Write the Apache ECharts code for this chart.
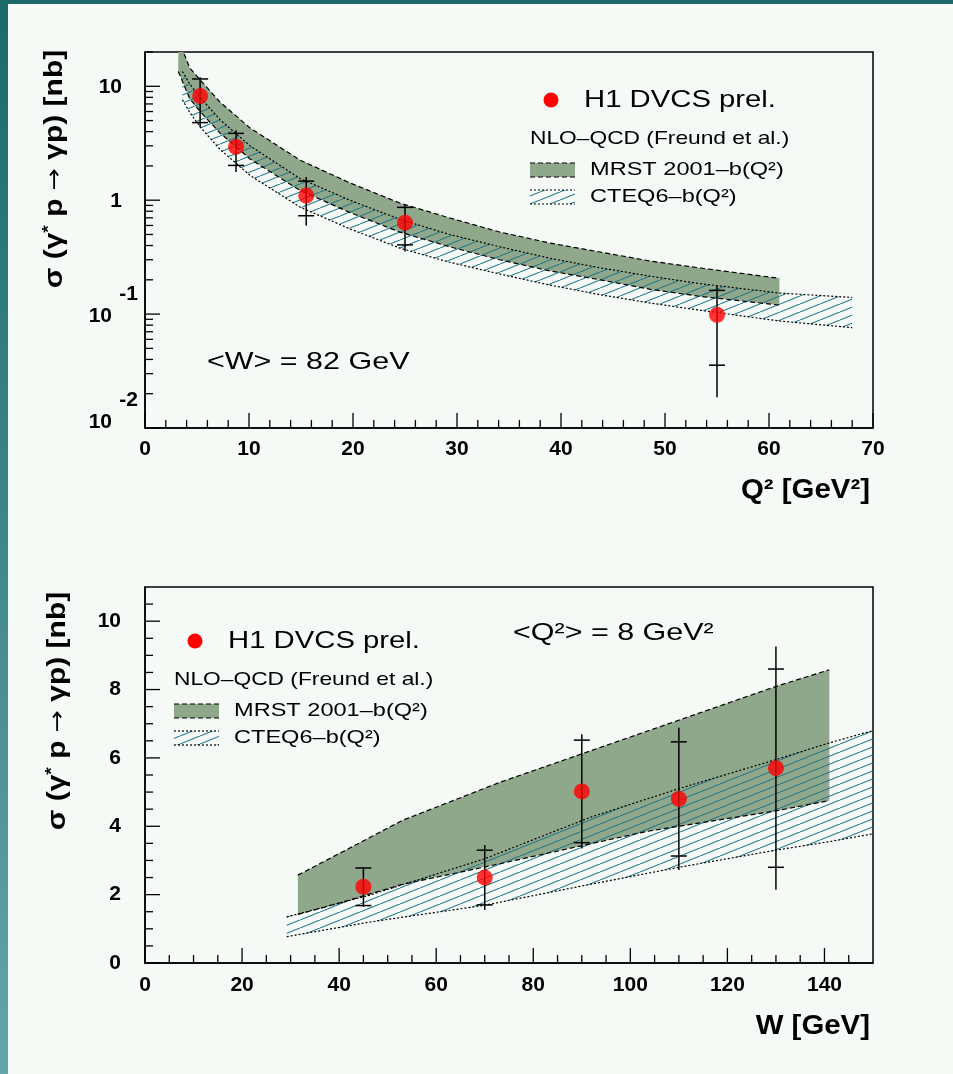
<!DOCTYPE html>
<html>
<head>
<meta charset="utf-8">
<title>DVCS cross section</title>
<script src="https://cdn.jsdelivr.net/npm/echarts@6/dist/echarts.min.js"></script>
<style>
  html, body { margin: 0; padding: 0; background: #f6faf6; }
  #frame { position: relative; width: 953px; height: 1074px; background: #f6faf6; overflow: hidden; }
  #bar-top { position: absolute; left: 0; top: 0; width: 953px; height: 4px; background: #1c696a; }
  #bar-left { position: absolute; left: 0; top: 0; width: 8px; height: 1074px; background: linear-gradient(to bottom, #1c696a, #63a6a5); }
  #chart { position: absolute; left: 0; top: 0; width: 953px; height: 1074px; }
</style>
</head>
<body>
<div id="frame"><div id="chart"></div><div id="bar-top"></div><div id="bar-left"></div></div>
<script>
// ---------- Q² dependence at <W> = 82 GeV ----------
const q2Values = [5.3, 8.75, 15.5, 25, 55];
const q2Sigma  = [8.2, 2.94, 1.1, 0.635, 0.0986];
const q2Stat   = [3.4, 0.92, 0.37, 0.23, 0.063];
const q2Total  = [3.8, 1.17, 0.5, 0.28, 0.08];

// NLO-QCD predictions (Freund et al.) vs Q²
const mrstQ2      = [3.2, 4.3, 5.3, 7.2, 10.1, 14.9, 19.7, 24.5, 29.3, 34.1, 38.9, 43.75, 48.6, 53.4, 61];
const mrstQ2Upper = [26, 14.5, 11.4, 7.28, 4.31, 2.25, 1.42, 0.944, 0.698, 0.526, 0.421, 0.351, 0.292, 0.254, 0.206];
const mrstQ2Lower = [13.5, 7.8, 6.0, 3.9, 2.3, 1.22, 0.78, 0.525, 0.39, 0.30, 0.24, 0.2, 0.165, 0.143, 0.12];

const cteqQ2      = [3.6, 4.3, 5.3, 7.2, 10.1, 14.9, 19.7, 24.5, 29.3, 34.1, 38.9, 43.75, 48.6, 53.4, 61, 68];
const cteqQ2Upper = [13.5, 10.5, 8.0, 5.1, 3.0, 1.55, 1.0, 0.68, 0.5, 0.39, 0.31, 0.255, 0.215, 0.185, 0.153, 0.14];
const cteqQ2Lower = [7.6, 5.9, 4.4, 2.8, 1.65, 0.87, 0.56, 0.38, 0.285, 0.225, 0.18, 0.148, 0.125, 0.108, 0.087, 0.076];

// ---------- W dependence at <Q²> = 8 GeV² ----------
const wValues = [45, 70, 90, 110, 130];
const wSigma  = [2.23, 2.5, 5.02, 4.8, 5.7];
const wStat   = [0.55, 0.8, 1.5, 1.67, 2.9];
const wTotal  = [0.58, 0.95, 1.67, 2.08, 3.56];

const mrstW      = [31.5, 40, 53, 73, 103.4, 130, 141];
const mrstWUpper = [2.57, 3.2, 4.17, 5.28, 6.78, 8.09, 8.58];
const mrstWLower = [1.42, 1.75, 2.3, 2.9, 3.85, 4.45, 4.75];

const cteqW      = [29.2, 46.4, 70, 91.7, 110, 130, 141, 150];
const cteqWUpper = [1.35, 1.99, 3.05, 4.26, 5.1, 5.95, 6.44, 6.8];
const cteqWLower = [0.77, 1.2, 1.69, 2.3, 2.8, 3.3, 3.55, 3.78];

// ---------- axis ticks and labels ----------
const q2MajorTicks = [0, 10, 20, 30, 40, 50, 60, 70];
const q2MinorTicks = [2, 4, 6, 8, 12, 14, 16, 18, 22, 24, 26, 28, 32, 34, 36, 38, 42, 44, 46, 48, 52, 54, 56, 58, 62, 64, 66, 68];
const logMajorTicks = [0.01, 0.1, 1, 10];
const logMinorTicks = [0.02, 0.03, 0.04, 0.05, 0.06, 0.07, 0.08, 0.09, 0.2, 0.3, 0.4, 0.5, 0.6, 0.7, 0.8, 0.9, 2, 3, 4, 5, 6, 7, 8, 9, 20];
const wMajorTicks = [0, 20, 40, 60, 80, 100, 120, 140];
const wMinorTicks = [5, 10, 15, 25, 30, 35, 45, 50, 55, 65, 70, 75, 85, 90, 95, 105, 110, 115, 125, 130, 135, 145];
const linMajorTicks = [0, 2, 4, 6, 8, 10];
const linMinorTicks = [0.5, 1, 1.5, 2.5, 3, 3.5, 4.5, 5, 5.5, 6.5, 7, 7.5, 8.5, 9, 9.5, 10.5];

const FONT = 'Liberation Sans';
const GREEN = '#8fa78b';
const TEAL = '#21778a';
const LABEL_SIZE = 21;

// diagonal hatching used for the CTEQ6 band
function hatchTile() {
  const c = document.createElement('canvas');
  c.width = 20; c.height = 8;
  const g = c.getContext('2d');
  g.strokeStyle = TEAL; g.lineWidth = 1.1;
  for (const dx of [-20, 0, 20]) {
    g.beginPath(); g.moveTo(dx, 8); g.lineTo(dx + 20, 0); g.stroke();
  }
  return c;
}
const HATCH = { image: hatchTile(), repeat: 'repeat' };

// filled area between two curves
function bandFill(xi, xs, up, lo, fill, z) {
  return {
    type: 'custom', xAxisIndex: xi, yAxisIndex: xi, clip: true, silent: true, z: z,
    data: [[xs[0], up[0]]],
    renderItem: (params, api) => {
      const top = xs.map((x, i) => api.coord([x, up[i]]));
      const bot = xs.map((x, i) => api.coord([x, lo[i]]));
      return { type: 'polygon', shape: { points: top.concat(bot.slice().reverse()) },
               style: { fill: fill, stroke: null } };
    }
  };
}
// dashed / dotted upper and lower edges of a band
function bandEdges(xi, xs, up, lo, dash, z) {
  return {
    type: 'custom', xAxisIndex: xi, yAxisIndex: xi, clip: true, silent: true, z: z,
    data: [[xs[0], up[0]]],
    renderItem: (params, api) => {
      const top = xs.map((x, i) => api.coord([x, up[i]]));
      const bot = xs.map((x, i) => api.coord([x, lo[i]]));
      const st = { stroke: '#000', lineWidth: 1.2, lineDash: dash, fill: null };
      return { type: 'group', children: [
        { type: 'polyline', shape: { points: top }, style: st },
        { type: 'polyline', shape: { points: bot }, style: st }
      ] };
    }
  };
}

// error bars: full line = total error, cross ticks = statistical error
function errorBars(xi, xs, ys, stat, tot) {
  return {
    type: 'custom', xAxisIndex: xi, yAxisIndex: xi, silent: true, z: 6,
    data: xs.map((x, i) => [x, ys[i], stat[i], tot[i]]),
    renderItem: (params, api) => {
      const x = api.value(0), y = api.value(1), s = api.value(2), t = api.value(3);
      const a = api.coord([x, y + t]), b = api.coord([x, y - t]);
      const c = api.coord([x, y + s]), d = api.coord([x, y - s]);
      const st = { stroke: '#000', lineWidth: 1.5 };
      const hw = 8;
      return { type: 'group', children: [
        { type: 'line', shape: { x1: a[0], y1: a[1], x2: b[0], y2: b[1] }, style: st },
        { type: 'line', shape: { x1: c[0] - hw, y1: c[1], x2: c[0] + hw, y2: c[1] }, style: st },
        { type: 'line', shape: { x1: d[0] - hw, y1: d[1], x2: d[0] + hw, y2: d[1] }, style: st }
      ] };
    }
  };
}

// inward pointing tick marks on the bottom and left axes
function tickSeries(xi, xMajor, xMinor, yMajor, yMinor, x0, y0) {
  const data = [];
  xMajor.forEach(v => data.push([v, y0, 0, 15]));
  xMinor.forEach(v => data.push([v, y0, 0, 8]));
  yMajor.forEach(v => data.push([x0, v, 1, 15]));
  yMinor.forEach(v => data.push([x0, v, 1, 8]));
  return {
    type: 'custom', xAxisIndex: xi, yAxisIndex: xi, silent: true, z: 8,
    data: data,
    renderItem: (params, api) => {
      const p = api.coord([api.value(0), api.value(1)]);
      const len = api.value(3);
      const st = { stroke: '#000', lineWidth: 1.3 };
      if (api.value(2) === 0) {
        return { type: 'line', shape: { x1: p[0], y1: p[1], x2: p[0], y2: p[1] - len }, style: st };
      }
      return { type: 'line', shape: { x1: p[0], y1: p[1], x2: p[0] + len, y2: p[1] }, style: st };
    }
  };
}

// decade labels of the logarithmic axis (10, 1, 10^-1, 10^-2)
const logLabels = {
  type: 'custom', xAxisIndex: 0, yAxisIndex: 0, silent: true, z: 8,
  data: logMajorTicks.map(v => [0, v]),
  renderItem: (params, api) => {
    const v = api.value(1);
    const p = api.coord([0, v]);
    const e = Math.round(Math.log10(v));
    const f = 'bold ' + LABEL_SIZE + 'px "' + FONT + '"';
    if (e >= 0) {
      return { type: 'text', x: p[0] - 23, y: p[1] + 1,
               style: { text: e === 1 ? '10' : '1', font: f, fill: '#000', align: 'right', verticalAlign: 'middle' } };
    }
    const dy = e === -2 ? -6 : 2;
    return { type: 'group', children: [
      { type: 'text', x: p[0] - 33, y: p[1] + dy,
        style: { text: '10', font: f, fill: '#000', align: 'right', verticalAlign: 'middle' } },
      { type: 'text', x: p[0] - 7, y: p[1] + dy - 22,
        style: { text: String(e), font: f, fill: '#000', align: 'right', verticalAlign: 'middle' } }
    ] };
  }
};

const tickLabel = { color: '#000', fontFamily: FONT, fontWeight: 'bold', fontSize: LABEL_SIZE };

// ---------- legend and annotation graphics ----------
function txt(x, y, text, size, opts) {
  opts = opts || {};
  return {
    type: 'text', x: x, y: y, scaleX: opts.sx || 1.2, rotation: opts.rot || 0, z: 20,
    style: {
      text: text, fill: '#000', fontFamily: FONT, fontSize: size, fontWeight: opts.bold ? 'bold' : 'normal',
      align: opts.align || 'left', verticalAlign: 'middle', rich: opts.rich
    }
  };
}
function legendBlock(x, y, dotX) {
  const els = [];
  els.push({ type: 'circle', shape: { cx: dotX, cy: y, r: 7.5 }, style: { fill: '#ff0000' }, z: 20 });
  els.push(txt(dotX + 33, y, 'H1 DVCS prel.', 24, { sx: 1.22 }));
  els.push(txt(x, y + 39, 'NLO\u2013QCD (Freund et al.)', 18.5, { sx: 1.23 }));
  // MRST swatch
  const my = y + 63;
  els.push({ type: 'rect', shape: { x: x, y: my, width: 45, height: 14 }, style: { fill: GREEN }, z: 20 });
  els.push({ type: 'line', shape: { x1: x, y1: my, x2: x + 45, y2: my }, style: { stroke: '#000', lineWidth: 1.2, lineDash: [5, 3] }, z: 21 });
  els.push({ type: 'line', shape: { x1: x, y1: my + 14, x2: x + 45, y2: my + 14 }, style: { stroke: '#000', lineWidth: 1.2, lineDash: [5, 3] }, z: 21 });
  els.push(txt(x + 60, my + 7, 'MRST 2001\u2013b(Q\u00b2)', 19, { sx: 1.24 }));
  // CTEQ swatch
  const cy = y + 90;
  els.push({ type: 'rect', shape: { x: x, y: cy, width: 45, height: 14 }, style: { fill: HATCH }, z: 20 });
  els.push({ type: 'line', shape: { x1: x, y1: cy, x2: x + 45, y2: cy }, style: { stroke: '#000', lineWidth: 1.2, lineDash: [2, 2] }, z: 21 });
  els.push({ type: 'line', shape: { x1: x, y1: cy + 14, x2: x + 45, y2: cy + 14 }, style: { stroke: '#000', lineWidth: 1.2, lineDash: [2, 2] }, z: 21 });
  els.push(txt(x + 60, cy + 7, 'CTEQ6\u2013b(Q\u00b2)', 19, { sx: 1.24 }));
  return els;
}

// cross-section axis title: superscript star and a full-size arrow
const sigmaRich = {
  s: { fontFamily: FONT, fontSize: 16, fontWeight: 'bold', verticalAlign: 'top', padding: [0, 0, 10, 0] },
  a: { fontFamily: 'DejaVu Sans', fontSize: 22, fontWeight: 'normal' }
};
const sigmaTitle = '\u03c3 (\u03b3{s|*} p {a|\u2192} \u03b3p) [nb]';
const graphics = [].concat(
  legendBlock(530, 100, 551),
  legendBlock(174, 641, 195),
  [
    txt(207, 362, '<W> = 82 GeV', 24, { sx: 1.27 }),
    txt(513, 633, '<Q\u00b2> = 8 GeV\u00b2', 24, { sx: 1.27 }),
    txt(870, 490, 'Q\u00b2 [GeV\u00b2]', 28, { bold: true, align: 'right', sx: 1.05 }),
    txt(870, 1026, 'W [GeV]', 28, { bold: true, align: 'right', sx: 1.05 }),
    txt(55, 169, sigmaTitle, 25, { bold: true, align: 'center', rot: Math.PI / 2, sx: 1.2, rich: sigmaRich }),
    txt(58, 711, sigmaTitle, 25, { bold: true, align: 'center', rot: Math.PI / 2, sx: 1.2, rich: sigmaRich })
  ]
);

const chart = echarts.init(document.getElementById('chart'), null, { renderer: 'canvas' });
chart.setOption({
  animation: false,
  backgroundColor: 'transparent',
  grid: [
    { left: 145, right: 80, top: 52, height: 376, show: true, borderColor: '#000', borderWidth: 1.5, backgroundColor: 'transparent' },
    { left: 145, right: 80, top: 587, height: 376, show: true, borderColor: '#000', borderWidth: 1.5, backgroundColor: 'transparent' }
  ],
  xAxis: [
    { type: 'value', gridIndex: 0, min: 0, max: 70, interval: 10,
      axisLine: { lineStyle: { color: '#000', width: 1.5 } }, axisTick: { show: false }, splitLine: { show: false },
      axisLabel: Object.assign({ margin: 11 }, tickLabel) },
    { type: 'value', gridIndex: 1, min: 0, max: 150, interval: 20,
      axisLine: { lineStyle: { color: '#000', width: 1.5 } }, axisTick: { show: false }, splitLine: { show: false },
      axisLabel: Object.assign({ margin: 12, formatter: v => (v % 20 === 0 ? String(v) : '') }, tickLabel) }
  ],
  yAxis: [
    { type: 'log', logBase: 10, gridIndex: 0, min: 0.01, max: 20,
      axisLine: { lineStyle: { color: '#000', width: 1.5 } }, axisTick: { show: false }, splitLine: { show: false },
      axisLabel: { show: false } },
    { type: 'value', gridIndex: 1, min: 0, max: 11, interval: 2,
      axisLine: { lineStyle: { color: '#000', width: 1.5 } }, axisTick: { show: false }, splitLine: { show: false },
      axisLabel: Object.assign({ margin: 24, formatter: v => (v % 2 === 0 ? String(v) : '') }, tickLabel) }
  ],
  graphic: graphics,
  series: [
    bandFill(0, mrstQ2, mrstQ2Upper, mrstQ2Lower, GREEN, 1),
    bandFill(0, cteqQ2, cteqQ2Upper, cteqQ2Lower, HATCH, 2),
    bandEdges(0, mrstQ2, mrstQ2Upper, mrstQ2Lower, [5, 3], 3),
    bandEdges(0, cteqQ2, cteqQ2Upper, cteqQ2Lower, [2, 2], 3),
    errorBars(0, q2Values, q2Sigma, q2Stat, q2Total),
    { type: 'scatter', xAxisIndex: 0, yAxisIndex: 0, z: 7, symbol: 'circle', symbolSize: 16,
      itemStyle: { color: '#ff0000' }, data: q2Values.map((x, i) => [x, q2Sigma[i]]) },
    tickSeries(0, q2MajorTicks, q2MinorTicks, logMajorTicks, logMinorTicks, 0, 0.01),
    logLabels,

    bandFill(1, mrstW, mrstWUpper, mrstWLower, GREEN, 1),
    bandFill(1, cteqW, cteqWUpper, cteqWLower, HATCH, 2),
    bandEdges(1, mrstW, mrstWUpper, mrstWLower, [5, 3], 3),
    bandEdges(1, cteqW, cteqWUpper, cteqWLower, [2, 2], 3),
    errorBars(1, wValues, wSigma, wStat, wTotal),
    { type: 'scatter', xAxisIndex: 1, yAxisIndex: 1, z: 7, symbol: 'circle', symbolSize: 16,
      itemStyle: { color: '#ff0000' }, data: wValues.map((x, i) => [x, wSigma[i]]) },
    tickSeries(1, wMajorTicks, wMinorTicks, linMajorTicks, linMinorTicks, 0, 0)
  ]
});
</script>
</body>
</html>
